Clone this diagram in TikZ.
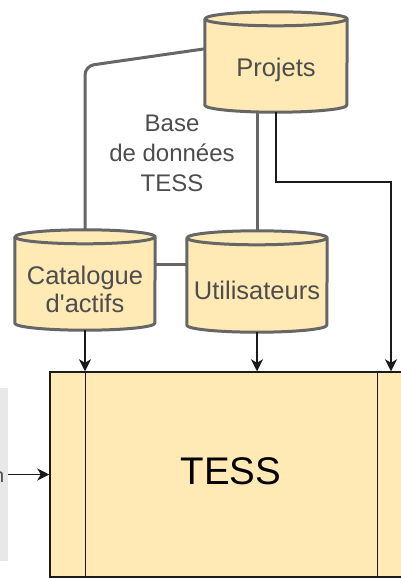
\documentclass[tikz,border=0pt]{standalone}
\usepackage{fontspec}
\setmainfont{Liberation Sans}[Ligatures=TeXOff]
\usetikzlibrary{arrows.meta,calc}
\definecolor{cylfill}{HTML}{FFEAB6}
\definecolor{dbgray}{HTML}{666666}
\definecolor{lblgray}{HTML}{4D4D4D}
\definecolor{panelgray}{HTML}{E8E8E8}
\definecolor{inkblack}{HTML}{1A1A1A}
\newcommand\cylshape[2]{%
  \draw[cylline] ($(#1.north west)+(0,7)$) -- ($(#1.south west)+(0,-7)$)
    arc[start angle=180,end angle=360,x radius=#2pt,y radius=7pt]
    -- ($(#1.north east)+(0,7)$)
    arc[start angle=0,end angle=180,x radius=#2pt,y radius=7pt] -- cycle;
  \draw[cylline,fill=none] ($(#1.north west)+(0,7)$)
    arc[start angle=180,end angle=360,x radius=#2pt,y radius=7pt];
}
\tikzset{
  slot/.style={draw=none,inner sep=0pt},
  cylline/.style={draw=dbgray,line width=3pt,fill=cylfill,line join=round},
  dbline/.style={draw=dbgray,line width=3pt},
  lbl/.style={text=lblgray,font=\fontsize{25.5}{28}\selectfont,align=center,inner sep=0pt},
  basetxt/.style={text=lblgray,font=\fontsize{24}{30}\selectfont,align=center,inner sep=0pt},
  tessbox/.style={draw=inkblack,line width=1.5pt,fill=cylfill,inner sep=0pt},
  panel/.style={fill=panelgray,draw=none,inner sep=0pt},
  boxline/.style={draw=inkblack,line width=1.5pt},
  arr/.style={draw=inkblack,line width=1.3pt,-{Stealth[length=12pt,width=12pt,inset=3.5pt]}},
}
\begin{document}
\begin{tikzpicture}[x=1pt,y=-1pt]
\useasboundingbox (0,0) rectangle (401,578);
\clip (0,0) rectangle (401,578);
% anchor boxes
\node[slot,minimum width=142pt,minimum height=100pt] (proj) at (276,62) {};
\node[slot,minimum width=140pt,minimum height=100pt] (cat) at (85,280) {};
\node[slot,minimum width=140pt,minimum height=101pt] (util) at (257,281.5) {};
\node[panel,minimum width=8pt,minimum height=173pt] (gbox) at (4,474.5) {};
\node[tessbox,minimum width=370pt,minimum height=205pt] (tess) at (235,474.5) {};
% database connectors
\coordinate (bend) at (85,66);
\draw[dbline,rounded corners=9pt] ($(proj.north west)+(0,37)$) -- (bend) -- (cat.north);
\draw[dbline] (util.north) -- (util.north |- proj.south);
\draw[dbline] ($(cat.east)+(0,-16)$) -- ($(util.west)+(0,-17.5)$);
% cylinders
\cylshape{proj}{71}
\cylshape{cat}{70}
\cylshape{util}{70}
% labels
\node[lbl] (projlbl) at (276,70) {Projets};
\node[lbl] (catlbl) at (85,289) {Catalogue\\d'actifs};
\node[lbl] (utillbl) at (257,290) {Utilisateurs};
\node[basetxt] (baselbl) at (172,153) {Base\\de données\\TESS};
% TESS box inner lines
\draw[boxline] ($(tess.north west)+(36,0)$) -- ($(tess.south west)+(36,0)$);
\draw[boxline] ($(tess.north west)+(328,0)$) -- ($(tess.south west)+(328,0)$);
\node[text=black,font=\fontsize{38.5}{40}\selectfont,inner sep=0pt] (tesslbl) at (231,471) {TESS};
\node[text=lblgray,font=\fontsize{20}{24}\selectfont,inner sep=0pt,anchor=base east] (nlbl) at (4.5,482) {n};
% arrows
\draw[arr] (cat.south) -- (cat.south |- tess.north);
\draw[arr] (util.south) -- (util.south |- tess.north);
\coordinate (turn) at (391,182);
\draw[arr] (proj.south) |- (turn) -- (turn |- tess.north);
\draw[arr] (gbox.east) -- (tess.west);
\end{tikzpicture}
\end{document}
